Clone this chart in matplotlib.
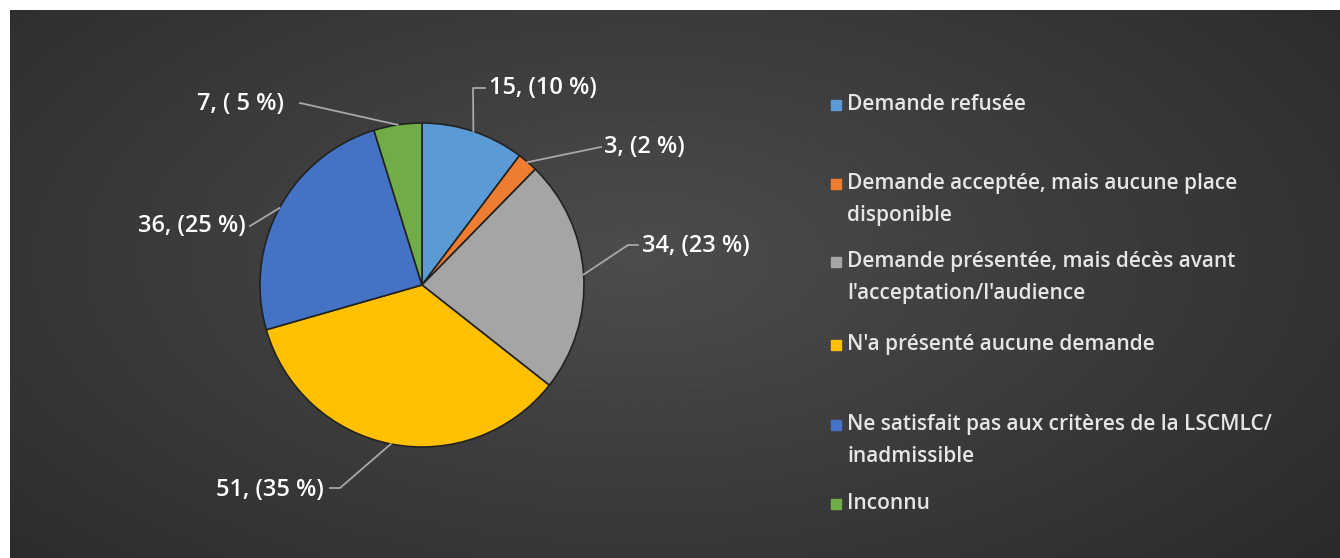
import numpy as np
import matplotlib
matplotlib.use('Agg')
import matplotlib.pyplot as plt

plt.rcParams['font.family'] = ['Open Sans', 'DejaVu Sans']

# données
categories = ['Demande refusée',
              'Demande acceptée, mais aucune place\ndisponible',
              'Demande présentée, mais décès avant\nl\'acceptation/l\'audience',
              'N\'a présenté aucune demande',
              'Ne satisfait pas aux critères de la LSCMLC/\ninadmissible',
              'Inconnu']
values = [15, 3, 34, 51, 36, 7]
labels = ['15, (10 %)', '3, (2 %)', '34, (23 %)', '51, (35 %)', '36, (25 %)', '7, ( 5 %)']
colors = ['#5B9BD5', '#ED7D31', '#A5A5A5', '#FFC000', '#4472C4', '#70AD47']

W, H = 1340, 558
fig = plt.figure(figsize=(W / 100, H / 100), dpi=100, facecolor='white')
ax = fig.add_axes([0, 0, 1, 1])
ax.set_xlim(0, W)
ax.set_ylim(0, H)
ax.set_aspect('equal')
ax.axis('off')

# fond gris foncé avec dégradé radial
xx, yy = np.meshgrid(np.linspace(10, W, 400), np.linspace(H - 10, 0, 200))
d = np.sqrt(((xx - 640) / 820) ** 2 + ((yy - 300) / 420) ** 2)
shade = np.clip(0.30 - 0.12 * d, 0.17, 0.30)
ax.imshow(shade, extent=[10, W, 0, H - 10], cmap='gray', vmin=0, vmax=1,
          origin='upper', aspect='auto', zorder=0)

# camembert
cx, cy, r = 422, H - 285, 162
wedges, _ = ax.pie(values, colors=colors, startangle=90, counterclock=False,
                   center=(cx, cy), radius=r, frame=True,
                   wedgeprops=dict(edgecolor='#222222', linewidth=1.2))
ax.set_xlim(0, W)
ax.set_ylim(0, H)
ax.axis('off')

# étiquettes (position du texte, coude de la ligne, alignement)
label_pos = [(489, 88), (604, 147), (642, 246), (324, 490), (246, 226), (284, 104)]
elbows = [[(473, 88), (485, 88)], [(601, 147)], [(628, 245), (638, 245)],
          [(340, 488), (330, 488)], [(250, 226)], [(300, 103)]]
aligns = ['left', 'left', 'left', 'right', 'right', 'right']

for w, lab, (tx, ty), el, ha in zip(wedges, labels, label_pos, elbows, aligns):
    ang = np.deg2rad((w.theta1 + w.theta2) / 2)
    ax_, ay_ = cx + r * np.cos(ang), cy + r * np.sin(ang)
    px = [ax_] + [p[0] for p in el]
    py = [ay_] + [H - p[1] for p in el]
    ax.plot(px, py, color='#a8a8a8', lw=1.3, zorder=3)
    ax.text(tx, H - ty, lab, color='white', fontsize=17, fontweight='semibold',
            ha=ha, va='center', zorder=4)

# légende
leg_y = [106, 185, 263, 346, 426, 505]
for c, cat, ly in zip(colors, categories, leg_y):
    ax.scatter([836], [H - ly + 1], marker='s', s=60, color=c, zorder=4)
    ax.text(847, H - ly + 12, cat, color='#e6e6e6', fontsize=15,
            fontweight='semibold', ha='left', va='top', linespacing=1.7, zorder=4)

fig.savefig('out.png', dpi=100, facecolor='white')
